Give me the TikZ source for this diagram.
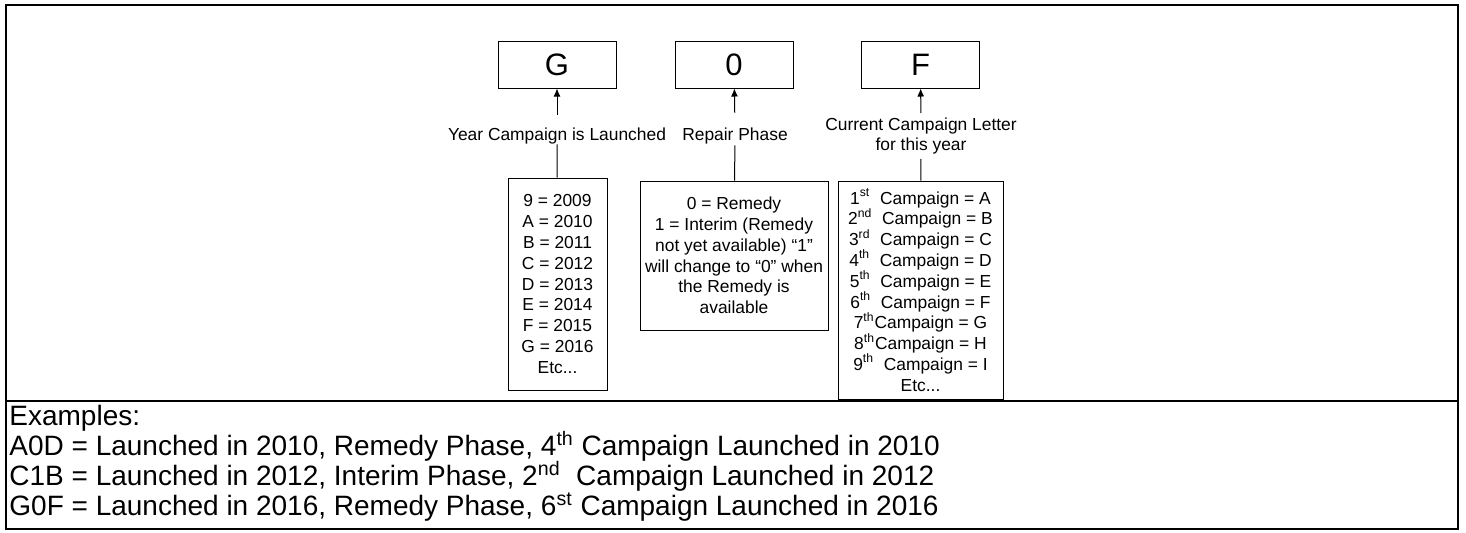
\documentclass[tikz,border=0pt]{standalone}
\usepackage{fontspec}
\setmainfont{Liberation Sans}
\usetikzlibrary{arrows.meta}
\newcommand{\smallfont}{\fontsize{8.7}{10.4}\selectfont}
\newcommand{\bigfont}{\fontsize{15.5}{18}\selectfont}
\newcommand{\examplefont}{\fontsize{14}{15}\selectfont\lineskiplimit=-8pt}
\newcommand{\sups}[1]{\textsuperscript{#1}}

\begin{document}
\begin{tikzpicture}[x=0.5pt, y=-0.5pt,
    letterbox/.style={draw, line width=0.5pt, minimum width=59pt, minimum height=23.5pt, inner sep=0pt, font=\bigfont},
    listbox/.style={draw, line width=0.5pt, inner sep=0pt, align=center, font=\smallfont},
    lab/.style={inner sep=0pt, align=center, font=\smallfont},
    arr/.style={line width=0.5pt, -{Latex[length=4pt,width=3.5pt]}},
    conn/.style={line width=0.5pt}]
    \useasboundingbox (0,0) rectangle (1466,532);
    \draw[line width=1.2pt] (6,5) rectangle (1458,529);
    \draw[line width=1.2pt] (6,401) -- (1458,401);

    % code letters
    \node[letterbox] (yr) at (557,64.5) {G};
    \node[letterbox] (ph) at (734,64.5) {0};
    \node[letterbox] (cp) at (920.5,64.5) {F};

    % labels under the letters
    \node[lab, text height=12.5pt, text depth=2pt, anchor=base] (yrlab) at (557,140) {Year Campaign is Launched};
    \node[lab, text height=13.5pt, text depth=2.5pt, anchor=base] (phlab) at (735,140) {Repair Phase};
    \node[lab, inner ysep=2pt] (cplab) at (921,136) {Current Campaign Letter\\for this year};

    % value lists
    \node[listbox, minimum width=49.5pt, minimum height=106pt] (yrlist) at (557.5,284)
        {9 = 2009\\A = 2010\\B = 2011\\C = 2012\\D = 2013\\E = 2014\\F = 2015\\G = 2016\\Etc...};
    \node[listbox, minimum width=94pt, minimum height=74.5pt] (phlist) at (734,255.5)
        {0 = Remedy\\1 = Interim (Remedy\\not yet available) “1”\\will change to “0” when\\the Remedy is\\available};
    \node[listbox, minimum width=82.5pt, minimum height=109pt] (cplist) at (920.5,290)
        {1\sups{st}\ \ Campaign = A\\2\sups{nd}\ \ Campaign = B\\3\sups{rd}\ \ Campaign = C\\4\sups{th}\ \ Campaign = D\\
         5\sups{th}\ \ Campaign = E\\6\sups{th}\ \ Campaign = F\\7\sups{th}Campaign = G\\8\sups{th}Campaign = H\\
         9\sups{th}\ \ Campaign = I\\Etc...};

    \draw[arr] (yrlab) -- (yr);
    \draw[arr] (phlab) -- (ph);
    \draw[arr] (cplab) -- (cp);
    \draw[conn] (yrlist) -- (yrlab);
    \draw[conn] (phlist) -- (phlab);
    \draw[conn] (cplist) -- (cplab);

    % examples
    \node[anchor=north west, align=left, inner sep=0pt, font=\examplefont] (ex) at (9,405)
        {Examples:\\
         A0D = Launched in 2010, Remedy Phase, 4\sups{th} Campaign Launched in 2010\\
         C1B = Launched in 2012, Interim Phase, 2\sups{nd}\ \ Campaign Launched in 2012\\
         G0F = Launched in 2016, Remedy Phase, 6\sups{st}\ Campaign Launched in 2016};
\end{tikzpicture}
\end{document}
